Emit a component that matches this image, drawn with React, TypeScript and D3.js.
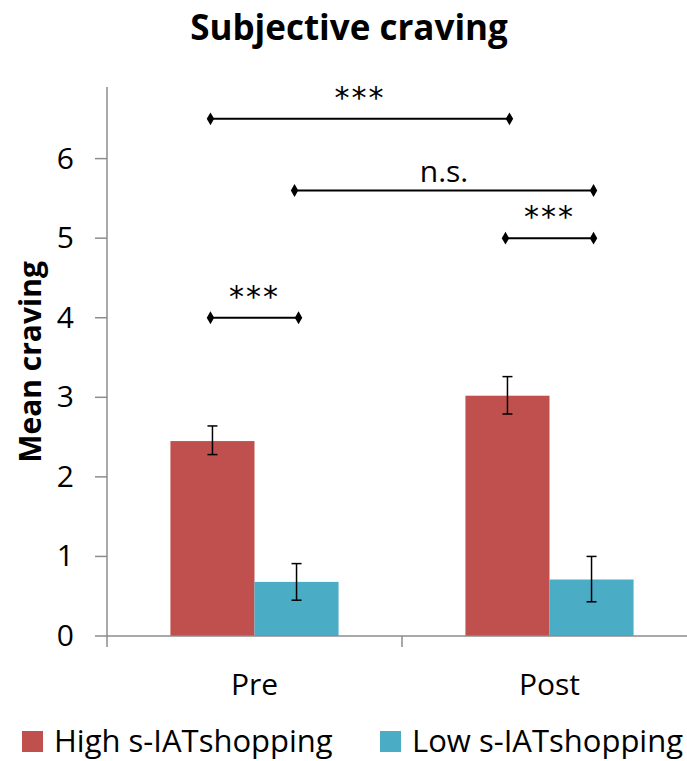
import React from "react";
import { scaleBand, scaleLinear, symbol, symbolDiamond } from "d3";

// chart data
const categories = ["Pre", "Post"];
const groups = ["High s-IATshopping", "Low s-IATshopping"];
const colors = ["#C0504D", "#4BACC6"];
const highMeans = [2.45, 3.02];
const lowMeans = [0.68, 0.71];
const highErrLow = [2.28, 2.79];
const highErrHigh = [2.64, 3.26];
const lowErrLow = [0.45, 0.43];
const lowErrHigh = [0.91, 1.0];
const yTicks = [0, 1, 2, 3, 4, 5, 6];

// significance brackets: [category, group index] from / to, level, label
const sigFromCat = ["Pre", "Pre", "Pre", "Post"];
const sigFromGrp = [0, 1, 0, 0];
const sigToCat = ["Post", "Post", "Pre", "Post"];
const sigToGrp = [0, 1, 1, 1];
const sigLevel = [6.5, 5.6, 4, 5];
const sigLabel = ["***", "n.s.", "***", "***"];

const W = 687;
const H = 761;
const FONT = "'Open Sans', 'Noto Sans', sans-serif";

const App = () => {
  const y = scaleLinear().domain([0, 6.9]).range([636, 87]);
  const x = scaleBand<string>()
    .domain(categories)
    .range([107, 697])
    .paddingInner(0.43)
    .paddingOuter(0.215);
  const inner = scaleBand<number>().domain([0, 1]).range([0, x.bandwidth()]);

  const means = [highMeans, lowMeans];
  const errLo = [highErrLow, lowErrLow];
  const errHi = [highErrHigh, lowErrHigh];

  const center = (cat: string, g: number) =>
    (x(cat) as number) + (inner(g) as number) + inner.bandwidth() / 2;

  const diamond = symbol().type(symbolDiamond).size(48)() as string;
  const axisColor = "#8c8c8c";
  // category boundaries on the x axis
  const xTicks = [0, 1, 2].map((k) => 107 + x.step() * k);

  return (
    <svg width={W} height={H} style={{ display: "block", position: "absolute", left: 0, top: 0 }}>
      <rect width={W} height={H} fill="#fff" />
      <text x={349} y={40} textAnchor="middle" fontFamily={FONT} fontWeight="bold" fontSize={35}>
        Subjective craving
      </text>

      {/* bars */}
      {categories.map((cat, i) =>
        groups.map((_, g) => (
          <rect
            key={cat + g}
            x={(x(cat) as number) + (inner(g) as number)}
            y={y(means[g][i])}
            width={inner.bandwidth()}
            height={y(0) - y(means[g][i])}
            fill={colors[g]}
          />
        ))
      )}

      {/* error bars */}
      {categories.map((cat, i) =>
        groups.map((_, g) => {
          const cx = center(cat, g);
          return (
            <g key={"e" + cat + g} stroke="#000" strokeWidth={1.5}>
              <line x1={cx} x2={cx} y1={y(errLo[g][i])} y2={y(errHi[g][i])} />
              <line x1={cx - 5} x2={cx + 5} y1={y(errLo[g][i])} y2={y(errLo[g][i])} />
              <line x1={cx - 5} x2={cx + 5} y1={y(errHi[g][i])} y2={y(errHi[g][i])} />
            </g>
          );
        })
      )}

      {/* y axis */}
      <line x1={107} x2={107} y1={y(6.9)} y2={y(0)} stroke={axisColor} strokeWidth={1.5} />
      {yTicks.map((t) => (
        <g key={"yt" + t}>
          <line x1={95} x2={107} y1={y(t)} y2={y(t)} stroke={axisColor} strokeWidth={1.5} />
          <text x={74} y={y(t) + 10} textAnchor="end" fontFamily={FONT} fontSize={30}>
            {t}
          </text>
        </g>
      ))}

      {/* x axis */}
      <line x1={107} x2={697} y1={y(0)} y2={y(0)} stroke={axisColor} strokeWidth={1.5} />
      {xTicks.map((px, k) => (
        <line key={"xt" + k} x1={px} x2={px} y1={y(0)} y2={y(0) + 11} stroke={axisColor} strokeWidth={1.5} />
      ))}
      {categories.map((cat) => (
        <text
          key={"xl" + cat}
          x={(x(cat) as number) + x.bandwidth() / 2}
          y={695}
          textAnchor="middle"
          fontFamily={FONT}
          fontSize={30}
        >
          {cat}
        </text>
      ))}

      <text
        transform={`translate(41,362) rotate(-90)`}
        textAnchor="middle"
        fontFamily={FONT}
        fontWeight="bold"
        fontSize={30}
      >
        Mean craving
      </text>

      {/* significance brackets */}
      {sigLevel.map((lv, k) => {
        const x1 = center(sigFromCat[k], sigFromGrp[k]) - 2;
        const x2 = center(sigToCat[k], sigToGrp[k]) + 2;
        const yy = y(lv);
        const star = sigLabel[k] === "***";
        return (
          <g key={"s" + k}>
            <line x1={x1} x2={x2} y1={yy} y2={yy} stroke="#000" strokeWidth={2} />
            <path d={diamond} transform={`translate(${x1},${yy})`} fill="#000" />
            <path d={diamond} transform={`translate(${x2},${yy})`} fill="#000" />
            <text
              x={(x1 + x2) / 2}
              y={star ? yy - 11 : yy - 8}
              textAnchor="middle"
              fontFamily={star ? "'DejaVu Sans', sans-serif" : FONT}
              fontSize={star ? 30 : 30}
              letterSpacing={star ? 2 : 0}
            >
              {sigLabel[k]}
            </text>
          </g>
        );
      })}

      {/* legend */}
      {groups.map((name, g) => {
        const lx = g === 0 ? 22 : 380;
        return (
          <g key={"lg" + g}>
            <rect x={lx} y={731} width={21} height={21} fill={colors[g]} />
            <text x={lx + 32} y={752} fontFamily={FONT} fontSize={31}>
              {name}
            </text>
          </g>
        );
      })}
    </svg>
  );
};

export default App;
